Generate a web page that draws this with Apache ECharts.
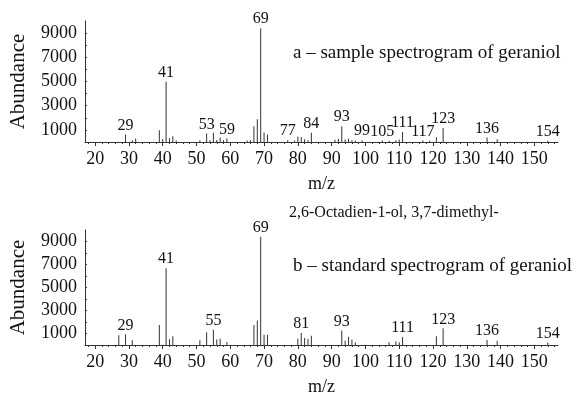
<!DOCTYPE html>
<html>
<head>
<meta charset="utf-8">
<script src="https://cdn.jsdelivr.net/npm/echarts@6/dist/echarts.min.js"></script>
<style>
  html, body { margin: 0; padding: 0; background: #fff; }
  #chart { width: 576px; height: 397px; }
</style>
</head>
<body>
<div id="chart"></div>
<script>
// Mass spectrum of the sample (m/z and abundance)
const sampleMz = [29, 31, 32, 39, 40, 41, 42, 43, 44, 51, 53, 54, 55, 56, 57, 58, 59, 65, 66, 67, 68, 69, 70, 71,
  77, 79, 80, 81, 82, 83, 84, 91, 92, 93, 94, 95, 96, 97, 99, 105, 107, 109, 110, 111, 117, 119, 121, 123, 136, 139, 154];
const sampleAbundance = [630, 150, 280, 980, 250, 4980, 300, 480, 120, 140, 700, 150, 760, 170, 380, 150, 300, 120, 150, 1300, 1880, 9400, 780, 630,
  150, 120, 450, 410, 220, 150, 770, 190, 270, 1300, 200, 270, 140, 120, 150, 120, 100, 150, 200, 830, 120, 100, 400, 1150, 380, 220, 100];
const sampleLabeled = [29, 41, 53, 59, 69, 77, 84, 93, 99, 105, 111, 117, 123, 136, 154];

// Library (standard) spectrum of geraniol
const standardMz = [27, 29, 31, 39, 41, 42, 43, 51, 53, 55, 56, 57, 59, 67, 68, 69, 70, 71,
  80, 81, 82, 83, 84, 93, 94, 95, 96, 97, 107, 109, 110, 111, 121, 123, 136, 139, 154];
const standardAbundance = [840, 930, 420, 1730, 6670, 490, 770, 410, 1100, 1320, 470, 550, 270, 1730, 2140, 9410, 900, 900,
  550, 1040, 600, 550, 800, 1260, 360, 710, 470, 250, 250, 300, 250, 690, 770, 1450, 440, 360, 220];
const standardLabeled = [29, 41, 55, 69, 81, 93, 111, 123, 136, 154];

// Axis ticks
const xTickLabels = [20, 30, 40, 50, 60, 70, 80, 90, 100, 110, 120, 130, 140, 150];
const yTickLabels = [1000, 3000, 5000, 7000, 9000];
const yMinorTicks = [1000, 2000, 3000, 4000, 5000, 6000, 7000, 8000, 9000];
const X_MIN = 17, X_MAX = 157;

const FONT = '"Liberation Serif", "Times New Roman", serif';
const INK = '#111';
const AXIS = '#333';

const xMinorTicks = [];
for (let v = 18; v <= 156; v += 2) xMinorTicks.push(v);

function peakData(mz, ab, labeled) {
  return mz.map((m, i) => ({
    value: [m, ab[i]],
    label: { show: labeled.includes(m) }
  }));
}

function mainX(gridIndex) {
  return {
    type: 'value', gridIndex, min: X_MIN, max: X_MAX, position: 'bottom',
    name: 'm/z', nameLocation: 'middle', nameGap: 33,
    nameTextStyle: { fontFamily: FONT, fontSize: 18, color: INK },
    axisLine: { show: true, lineStyle: { color: AXIS, width: 1 } },
    axisTick: { show: true, customValues: xTickLabels, length: 4, lineStyle: { color: AXIS } },
    axisLabel: { show: true, customValues: xTickLabels, fontFamily: FONT, fontSize: 18, color: INK, margin: 8,
      formatter: v => String(v) },
    splitLine: { show: false }
  };
}
function minorX(gridIndex) {
  return {
    type: 'value', gridIndex, min: X_MIN, max: X_MAX, position: 'bottom',
    axisLine: { show: false },
    axisTick: { show: true, customValues: xMinorTicks, length: 2, lineStyle: { color: AXIS } },
    axisLabel: { show: false },
    splitLine: { show: false }
  };
}
function mainY(gridIndex) {
  return {
    type: 'value', gridIndex, min: 0, max: 10000,
    name: 'Abundance', nameLocation: 'middle', nameGap: 56, nameRotate: 90,
    nameTextStyle: { fontFamily: FONT, fontSize: 21, color: INK },
    axisLine: { show: true, lineStyle: { color: AXIS, width: 1 } },
    axisTick: { show: true, inside: true, customValues: yMinorTicks, length: 2, lineStyle: { color: AXIS } },
    axisLabel: { show: true, customValues: yTickLabels, fontFamily: FONT, fontSize: 18, color: INK, margin: 8,
      formatter: v => String(v) },
    splitLine: { show: false }
  };
}
function peakSeries(xAxisIndex, yAxisIndex, data) {
  return {
    type: 'bar', xAxisIndex, yAxisIndex, data, barWidth: 1,
    itemStyle: { color: '#333' },
    label: { position: 'top', distance: 1, fontFamily: FONT, fontSize: 16, color: INK,
      formatter: p => String(p.value[0]) },
    silent: true, animation: false
  };
}

const chart = echarts.init(document.getElementById('chart'), null, { renderer: 'canvas' });
chart.setOption({
  backgroundColor: '#fff',
  animation: false,
  grid: [
    { left: 82, top: 21, width: 476, height: 121 },
    { left: 82, top: 230, width: 476, height: 121 }
  ],
  xAxis: [mainX(0), minorX(0), mainX(1), minorX(1)],
  yAxis: [mainY(0), mainY(1)],
  series: [
    peakSeries(0, 0, peakData(sampleMz, sampleAbundance, sampleLabeled)),
    peakSeries(2, 1, peakData(standardMz, standardAbundance, standardLabeled))
  ],
  graphic: [
    { type: 'text', left: 293, top: 44, style: { text: 'a – sample spectrogram of geraniol', font: '19px ' + FONT, fill: INK } },
    { type: 'text', left: 289, top: 205, style: { text: '2,6-Octadien-1-ol, 3,7-dimethyl-', font: '16px ' + FONT, fill: INK } },
    { type: 'text', left: 293, top: 257, style: { text: 'b – standard spectrogram of geraniol', font: '19px ' + FONT, fill: INK } }
  ]
});
</script>
</body>
</html>
